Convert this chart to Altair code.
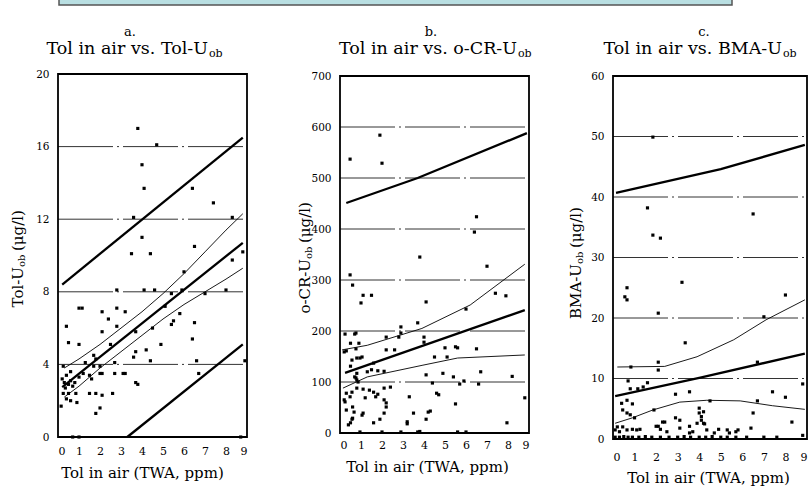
import altair as alt
import pandas as pd

FONT = "DejaVu Serif"
W, H = 809, 488

# ---------------- Panel a: Tol in air vs. Tol-U_ob ----------------
a_points = [(3.8,17.0),(4.7,16.1),(4.0,15.0),(4.1,13.7),(6.4,13.7),(7.4,12.9),(3.6,12.1),(8.3,12.1),
            (4.0,11.0),(3.5,10.1),(4.4,10.1),(6.5,10.5),(8.8,10.2),(8.3,9.75),(6.0,9.1),
            (2.8,8.1),(4.1,8.1),(4.6,8.1),(5.4,7.9),(5.9,8.1),(7.0,7.9),(8.0,8.1),(5.1,7.2),(1.0,7.1),
            (1.15,7.1),(2.1,6.9),(2.8,7.1),(3.2,6.9),(5.8,6.8),(2.4,6.5),(0.4,6.1),(2.8,6.1),(5.5,6.4),
            (5.4,6.2),(6.5,6.3),(2.1,5.8),(3.7,5.8),(4.5,6.0),(0.5,5.2),(1.0,5.1),(2.5,5.1),(4.9,5.1),
            (6.4,5.4),(4.2,4.8),(3.7,4.7),(3.6,4.4),(4.4,4.2),(1.7,4.5),(1.8,4.3),(6.6,4.2),(8.9,4.2),
            (1.3,4.1),(0.25,3.9),(0.6,3.6),(0.2,3.2),(0.3,3.0),(0.5,2.9),(0.7,2.8),(0.8,3.0),(1.0,3.3),
            (1.2,3.5),(1.5,3.4),(1.6,3.2),(2.0,3.5),(2.1,3.5),(2.7,3.5),(3.1,3.5),(1.7,3.9),(2.0,3.9),
            (2.7,4.1),(0.4,3.4),(0.35,2.7),(0.6,3.1),(0.25,2.4),(0.5,2.4),(0.85,2.4),(0.4,2.1),(0.6,2.0),
            (0.9,1.9),(0.15,1.7),(1.5,2.4),(1.8,2.4),(2.1,2.3),(2.6,2.4),(3.7,3.0),(3.8,2.9),(2.0,1.6),
            (1.8,1.3),(6.7,3.5),(3.2,3.5),(0.7,0.0),(1.0,0.0),(8.7,0.0)]
a_reg = [(0.2,2.75),(8.8,10.7)]
a_pred_up = [(0.2,8.4),(8.8,16.5)]
a_pred_lo = [(3.3,0.0),(8.8,5.1)]
a_ci_up = [(0.3,3.8),(1,4.3),(2,5.1),(3,6.0),(4,6.9),(5,7.9),(6,9.0),(7,10.2),(8,11.4),(8.8,12.3)]
a_ci_lo = [(0.3,2.2),(1,2.8),(2,3.8),(3,4.7),(4,5.6),(5,6.5),(6,7.3),(7,8.0),(8,8.7),(8.8,9.3)]
a_grid = [4, 8, 12, 16]
a_yticks = [0, 4, 8, 12, 16, 20]
a_ymax = 20

# ---------------- Panel b: Tol in air vs. o-CR-U_ob ----------------
b_points = [(0.48,537),(1.9,584),(2.0,529),(6.5,424),(6.4,394),(3.8,345),(7.0,327),(0.48,310),(0.6,290),
            (1.1,270),(1.5,270),(1.0,255),(4.1,257),(7.4,274),(7.9,269),(6.0,243),(2.9,208),(3.7,216),
            (2.8,188),(2.2,188),(0.24,194),(0.7,194),(0.5,176),(0.9,176),(0.3,161),(0.76,165),(2.2,163),
            (2.6,163),(4.0,188),(4.0,178),(5.6,167),(6.5,165),(4.5,149),(5.1,149),(0.8,147),(1.05,149),
            (1.6,137),(0.5,131),(1.3,120),(1.8,122),(2.1,121),(0.8,117),(0.7,110),(0.8,104),(0.86,100),
            (4.1,114),(4.9,117),(5.4,110),(5.9,102),(6.6,96),(6.7,120),(8.2,111),(5.7,96),(4.4,98),
            (0.3,78),(0.48,71),(0.8,88),(1.1,86),(1.4,84),(1.2,69),(1.8,76),(1.7,71),(2.1,88),(2.1,65),
            (2.2,59),(2.2,51),(0.24,61),(0.6,51),(0.3,45),(1.1,39),(0.67,41),(0.57,27),(0.5,20),(1.6,20),
            (2.1,39),(3.3,71),(3.5,39),(3.2,22),(4.2,41),(4.6,78),(4.7,75),(5.5,57),(7.95,20),(8.8,69),
            (4.3,43),(4.1,27),(3.2,18),(2.4,90),(1.9,27),(1.05,35),(0.4,16),(0.6,29),(1.6,80),(0.57,80),
            (0.2,65),(0.76,108),(0.57,143),(0.95,147),(1.5,124),(2.9,196),(0.76,196),(5.0,167),(5.5,169),
            (0.2,159),(0.95,2),(2.0,2),(2.9,2),(3.7,2),(3.8,3),(5.6,2),(6.0,2)]
b_reg = [(0.24,118),(8.8,241)]
b_pred_up = [(0.3,451),(3.7,500),(8.9,588)]
b_ci_up = [(0.1,163),(1.3,172),(3.9,205),(6.2,251),(8.8,331)]
b_ci_lo = [(0.14,88),(1.3,110),(3.95,133),(5.6,147),(8.8,153)]
b_grid = [100, 200, 300, 400, 500, 600]
b_yticks = [0, 100, 200, 300, 400, 500, 600, 700]
b_ymax = 700

# ---------------- Panel c: Tol in air vs. BMA-U_ob ----------------
c_points = [(1.85,49.9),(1.6,38.2),(6.5,37.2),(1.85,33.7),(2.2,33.2),(3.2,25.9),(0.65,25.0),(0.55,23.5),
            (0.65,23.0),(8.0,23.8),(2.1,20.8),(7.0,20.2),(3.35,15.9),(0.83,11.9),(2.1,12.7),(2.1,11.4),
            (6.7,12.7),(0.7,9.6),(1.6,9.3),(1.4,8.6),(0.8,8.3),(1.15,8.3),(2.9,7.4),(3.55,7.8),(4.5,6.3),
            (6.7,6.3),(7.4,7.8),(8.0,6.9),(8.8,9.1),(0.4,5.9),(0.65,6.4),(0.9,5.8),(0.45,4.8),(0.65,4.3),
            (0.8,4.0),(1.0,3.5),(1.9,4.8),(2.9,3.5),(4.0,4.3),(4.1,3.7),(4.2,2.6),(6.5,4.3),(8.3,2.8),
            (2.3,2.8),(2.0,2.1),(0.2,2.0),(0.1,1.5),(0.3,1.2),(0.45,2.0),(0.65,1.5),(0.9,1.6),(1.1,1.5),
            (1.25,1.6),(2.1,2.1),(2.2,1.6),(2.5,1.2),(3.1,1.8),(3.55,1.0),(3.9,2.6),(4.1,3.1),(4.25,2.5),
            (4.35,1.5),(4.7,1.0),(4.9,1.6),(5.3,1.5),(5.4,1.0),(5.7,1.2),(5.8,1.5),(6.4,1.8),(8.8,0.6),
            (4.0,5.1),(4.2,4.5),(2.4,2.8),(3.1,3.1),(3.55,2.1),(3.7,1.2),
            (0.1,0.3),(0.3,0.3),(0.5,0.4),(0.7,0.3),(0.9,0.3),(1.2,0.3),(1.5,0.4),(1.8,0.3),(2.2,0.3),
            (2.6,0.3),(3.0,0.3),(3.3,0.4),(3.6,0.3),(4.0,0.3),(4.3,0.3),(4.6,0.4),(5.0,0.3),(5.3,0.3),
            (5.7,0.3),(6.2,0.3),(7.0,0.3),(7.6,0.3)]
c_reg = [(0.1,7.1),(4.0,10.1),(8.9,14.1)]
c_pred_up = [(0.14,40.7),(5.0,44.6),(8.9,48.6)]
c_ci_up = [(0.2,11.9),(2.4,12.0),(3.9,13.6),(5.6,16.4),(7.1,19.7),(8.9,23.0)]
c_ci_lo = [(0.1,2.6),(0.9,3.5),(1.85,4.8),(3.1,6.1),(4.35,6.4),(5.9,6.3),(7.4,5.5),(8.9,4.9)]
c_grid = [10, 20, 30, 40, 50]
c_yticks = [0, 10, 20, 30, 40, 50, 60]
c_ymax = 60

x_ticks = list(range(10))
x_title = "Tol in air (TWA, ppm)"


def lines_df(curves):
    rows = []
    for name, pts in curves.items():
        for i, (x, y) in enumerate(pts):
            rows.append({"x": x, "y": y, "s": name, "o": i})
    return pd.DataFrame(rows)


def panel(points, thick, thin, grid, yticks, ymax, xr, yr, label_pad, title_x, title_y):
    xs = alt.Scale(domain=[0, 9], range=xr, nice=False, zero=False)
    ys = alt.Scale(domain=[0, ymax], range=yr, nice=False, zero=False)
    xa = alt.Axis(orient="bottom", offset=yr[0] - H, values=x_ticks, tickSize=0, domain=False,
                  grid=False, labelPadding=label_pad, labelFont=FONT, labelFontSize=11,
                  labelColor="black", title=x_title, titleFont=FONT, titleFontSize=15,
                  titleFontWeight="normal", titleColor="black", titleBaseline="middle",
                  titleX=title_x, titleY=title_y)
    ya = alt.Axis(orient="left", offset=-xr[0], values=yticks, tickSize=0, domain=False,
                  grid=False, labelPadding=9, labelFont=FONT, labelFontSize=10.5,
                  labelColor="black", title="")
    X = lambda f: alt.X(f, type="quantitative", scale=xs, axis=xa)
    Y = lambda f: alt.Y(f, type="quantitative", scale=ys, axis=ya)

    gdf = pd.DataFrame({"y": grid, "x0": 0, "x1": 9})
    gl = alt.Chart(gdf).mark_rule(color="#333", strokeWidth=1, strokeDash=[55, 4, 2, 4]).encode(
        x=X("x0"), x2="x1", y=Y("y"))
    fdf = pd.DataFrame({"x0": [0], "x1": [9], "y0": [0], "y1": [ymax]})
    fr = alt.Chart(fdf).mark_rect(fillOpacity=0, stroke="black", strokeWidth=1.8).encode(
        x=X("x0"), x2="x1", y=Y("y0"), y2="y1")
    tk = alt.Chart(lines_df(thick)).mark_line(color="black", strokeWidth=2.3).encode(
        x=X("x"), y=Y("y"), detail="s:N", order="o:Q")
    tn = alt.Chart(lines_df(thin)).mark_line(color="black", strokeWidth=0.9).encode(
        x=X("x"), y=Y("y"), detail="s:N", order="o:Q")
    pdf = pd.DataFrame(points, columns=["x", "y"])
    pt = alt.Chart(pdf).mark_square(color="black", filled=True, size=10, opacity=1).encode(
        x=X("x"), y=Y("y"))
    return alt.layer(gl, fr, tk, tn, pt)


pa = panel(a_points, {"reg": a_reg, "pu": a_pred_up, "pl": a_pred_lo},
           {"cu": a_ci_up, "cl": a_ci_lo}, a_grid, a_yticks, a_ymax,
           [58, 247], [437, 74], 8, 142, 35)
pb = panel(b_points, {"reg": b_reg, "pu": b_pred_up},
           {"cu": b_ci_up, "cl": b_ci_lo}, b_grid, b_yticks, b_ymax,
           [340, 529], [433, 76], 6, 427, 33)
pc = panel(c_points, {"reg": c_reg, "pu": c_pred_up},
           {"cu": c_ci_up, "cl": c_ci_lo}, c_grid, c_yticks, c_ymax,
           [613, 807], [439, 76], 12, 708, 38)


def txt(s, x, y, size=17.5, align="center", angle=0, dx=0, dy=0, style="normal"):
    return alt.Chart(alt.Data(values=[{"t": s}])).mark_text(
        align=align, baseline="middle", fontSize=size, font=FONT, angle=angle,
        dx=dx, dy=dy, fontStyle=style, color="black").encode(
        x=alt.value(x), y=alt.value(y), text="t:N")


texts = [
    txt("a.", 130, 32, 13), txt("b.", 431, 32, 13), txt("c.", 704, 32, 13),
    txt("Tol in air vs. Tol-U", 208, 49, align="right"), txt("ob", 209, 54, 11, align="left"),
    txt("Tol in air vs. o-CR-U", 517, 49, align="right"), txt("ob", 518, 54, 11, align="left"),
    txt("Tol in air vs. BMA-U", 782, 49, align="right"), txt("ob", 783, 54, 11, align="left"),
    # y-axis titles (rotated)
    txt("Tol-U", 18, 267, 15, align="right", angle=270), txt("ob", 22, 267, 10, align="left", angle=270),
    txt("(μg/l)", 18, 267, 15, align="left", angle=270, dx=16),
    txt("o-CR-U", 305, 259, 15, align="right", angle=270), txt("ob", 309, 259, 10, align="left", angle=270),
    txt("(μg/l)", 305, 259, 15, align="left", angle=270, dx=16),
    txt("BMA-U", 576, 264, 15, align="right", angle=270), txt("ob", 580, 264, 10, align="left", angle=270),
    txt("(μg/l)", 576, 264, 15, align="left", angle=270, dx=16),
]

box = alt.Chart(alt.Data(values=[{"k": 1}])).mark_rect(
    fill="#b9dfe2", stroke="#555", strokeWidth=1.5).encode(
    x=alt.value(59), x2=alt.value(732), y=alt.value(-4), y2=alt.value(5))

chart = alt.layer(box, pa, pb, pc, *texts).resolve_scale(
    x="independent", y="independent").resolve_axis(x="independent", y="independent").properties(
    width=W, height=H, padding=0, autosize=alt.AutoSizeParams(type="none"),
    background="white").configure_view(stroke=None)

chart.save("out.html", embed_options={"renderer": "svg", "actions": False})
